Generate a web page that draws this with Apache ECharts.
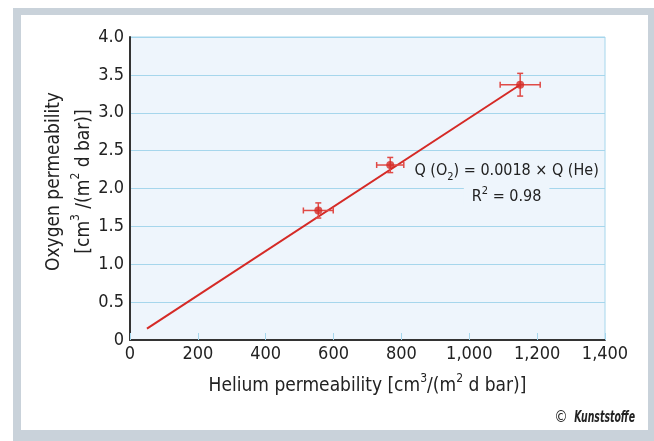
<!DOCTYPE html>
<html>
<head>
<meta charset="utf-8">
<script src="https://cdn.jsdelivr.net/npm/echarts@6/dist/echarts.min.js"></script>
<style>
  html, body { margin: 0; padding: 0; background: #fff; }
  #main { width: 654px; height: 441px; }
</style>
</head>
<body>
<div id="main"></div>
<script>
// 数据
var xTicks = [0, 200, 400, 600, 800, 1000, 1200, 1400];
var yTicks = [0, 0.5, 1.0, 1.5, 2.0, 2.5, 3.0, 3.5, 4.0];
var heliumVals = [555, 767, 1150];
var oxygenVals = [1.71, 2.31, 3.37];
var heliumErr = [44, 40, 59];
var oxygenErr = [0.10, 0.10, 0.15];
var fitLine = [[50, 0.15], [1150, 3.37]];

var FONT = '"Liberation Sans Narrow", "DejaVu Sans Condensed", "Noto Sans", sans-serif';
var RED = '#d52a26';
var ERR = '#e04a46';

var points = heliumVals.map(function (x, i) { return [x, oxygenVals[i]]; });
var errData = heliumVals.map(function (x, i) {
    return [x, oxygenVals[i], heliumErr[i], oxygenErr[i]];
});

var richX = {
    a: { fontFamily: FONT, fontSize: 19, color: '#222', lineHeight: 23, verticalAlign: 'bottom' },
    s: { fontFamily: FONT, fontSize: 12, color: '#222', lineHeight: 23, verticalAlign: 'top' }
};
var richY = {
    a: { fontFamily: FONT, fontSize: 19, color: '#222', lineHeight: 30, verticalAlign: 'bottom' },
    s: { fontFamily: FONT, fontSize: 12, color: '#222', lineHeight: 30, verticalAlign: 'top', padding: [6, 0, 0, 0] }
};

var myChart = echarts.init(document.getElementById('main'));

function renderErr(params, api) {
    var x = api.value(0), y = api.value(1), ex = api.value(2), ey = api.value(3);
    var l = api.coord([x - ex, y]), r = api.coord([x + ex, y]);
    var t = api.coord([x, y + ey]), b = api.coord([x, y - ey]);
    var cap = 3;
    var st = { stroke: ERR, lineWidth: 1.5 };
    return {
        type: 'group',
        children: [
            { type: 'line', shape: { x1: l[0], y1: l[1], x2: r[0], y2: r[1] }, style: st },
            { type: 'line', shape: { x1: l[0], y1: l[1] - cap, x2: l[0], y2: l[1] + cap }, style: st },
            { type: 'line', shape: { x1: r[0], y1: r[1] - cap, x2: r[0], y2: r[1] + cap }, style: st },
            { type: 'line', shape: { x1: t[0], y1: t[1], x2: b[0], y2: b[1] }, style: st },
            { type: 'line', shape: { x1: t[0] - cap, y1: t[1], x2: t[0] + cap, y2: t[1] }, style: st },
            { type: 'line', shape: { x1: b[0] - cap, y1: b[1], x2: b[0] + cap, y2: b[1] }, style: st }
        ]
    };
}

var option = {
    animation: false,
    backgroundColor: '#fff',
    grid: {
        left: 130, right: 49, top: 37, bottom: 101,
        show: true,
        backgroundColor: '#eef5fc',
        borderColor: '#a6d6ec',
        borderWidth: 1
    },
    xAxis: {
        type: 'value',
        min: 0, max: 1400, interval: 200,
        axisLine: { lineStyle: { color: '#333', width: 2 } },
        axisTick: { show: true, inside: true, length: 7, lineStyle: { color: '#a6d6ec', width: 1 } },
        splitLine: { show: false },
        axisLabel: {
            fontFamily: FONT, fontSize: 18, color: '#222', margin: 5,
            formatter: function (v) { return v >= 1000 ? Math.floor(v / 1000) + ',' + ('00' + (v % 1000)).slice(-3) : String(v); }
        },
        name: '{a|Helium permeability [cm}{s|3}{a|/(m}{s|2}{a| d bar)]}',
        nameLocation: 'middle',
        nameGap: 33,
        nameTextStyle: { rich: richX }
    },
    yAxis: {
        type: 'value',
        min: 0, max: 4, interval: 0.5,
        axisLine: { show: true, lineStyle: { color: '#333', width: 2 } },
        axisTick: { show: false },
        splitLine: { show: true, lineStyle: { color: '#a6d6ec', width: 1 } },
        axisLabel: {
            fontFamily: FONT, fontSize: 18, color: '#222', margin: 6,
            formatter: function (v) { return v === 0 ? '0' : v.toFixed(1); }
        },
        name: '{a|Oxygen permeability}\n{a|[cm}{s|3}{a| /(m}{s|2}{a| d bar)]}',
        nameLocation: 'middle',
        nameGap: 36,
        nameMoveOverlap: false,
        nameRotate: 90,
        nameTextStyle: { rich: richY, align: 'center', padding: [0, 0, 0, 14] }
    },
    series: [
        {
            type: 'line',
            data: fitLine,
            symbol: 'none',
            lineStyle: { color: RED, width: 2 },
            z: 2
        },
        {
            type: 'custom',
            data: errData,
            renderItem: renderErr,
            z: 3
        },
        {
            type: 'scatter',
            data: points,
            symbolSize: 8,
            itemStyle: { color: RED },
            z: 4
        }
    ]
};

myChart.setOption(option);

// 边框、版权和公式标注
var p1 = myChart.convertToPixel('grid', [1110, 2.21]);
var p2 = myChart.convertToPixel('grid', [1110, 1.91]);
myChart.setOption({
    graphic: [
        { id: 'frame', type: 'rect', z: -10, silent: true, shape: { x: 13, y: 8, width: 660, height: 450 }, style: { fill: '#c9d2da' } },
        { id: 'inner', type: 'rect', z: -9, silent: true, shape: { x: 21, y: 15, width: 627, height: 415 }, style: { fill: '#fff' } },
        {
            id: 'copyc', type: 'text', x: 561, y: 418, z: 10,
            style: { text: '©', align: 'center', verticalAlign: 'middle', fontFamily: FONT, fontSize: 15, fill: '#222' }
        },
        {
            id: 'copyk', type: 'text', x: 635, y: 418, z: 10, scaleX: 0.65,
            style: {
                text: 'Kunststoffe', align: 'right', verticalAlign: 'middle',
                fontFamily: FONT, fontSize: 16, fontWeight: 'bold', fontStyle: 'italic', fill: '#222'
            }
        },
        {
            id: 'eq', type: 'text', x: p1[0], y: p1[1], z: 10,
            style: {
                text: '{a|Q (O}{b|2}{a|) = 0.0018 × Q (He)}',
                align: 'center', verticalAlign: 'middle',
                rich: {
                    a: { fontFamily: FONT, fontSize: 16, fill: '#222', lineHeight: 20, verticalAlign: 'top' },
                    b: { fontFamily: FONT, fontSize: 11, fill: '#222', lineHeight: 20, verticalAlign: 'bottom' }
                }
            }
        },
        {
            id: 'r2', type: 'text', x: p2[0], y: p2[1], z: 10,
            style: {
                text: '{a|R}{s|2}{a| = 0.98}',
                align: 'center', verticalAlign: 'middle',
                backgroundColor: '#eef5fc',
                padding: [0, 8],
                rich: {
                    a: { fontFamily: FONT, fontSize: 16, fill: '#222', lineHeight: 20, verticalAlign: 'bottom' },
                    s: { fontFamily: FONT, fontSize: 11, fill: '#222', lineHeight: 20, verticalAlign: 'top' }
                }
            }
        }
    ]
});
</script>
</body>
</html>
